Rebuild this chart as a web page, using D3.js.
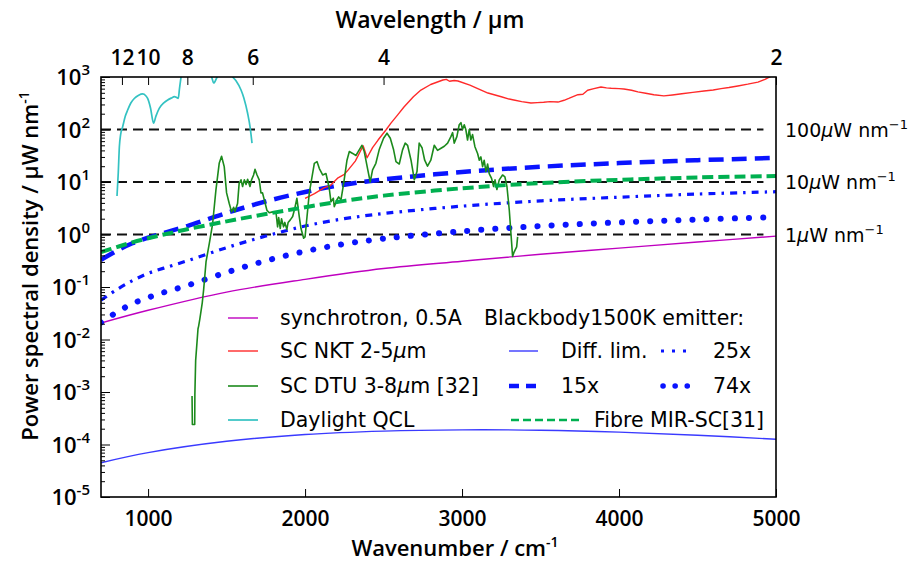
<!DOCTYPE html>
<html>
<head>
<meta charset="utf-8">
<script src="https://cdn.jsdelivr.net/npm/d3@7"></script>
<style>
  body { margin: 0; background: #fff; }
  svg { display: block; }
</style>
</head>
<body>
<svg id="chart" width="913" height="564"></svg>
<script>
// ---- axis settings ----
const wavenumberDomain = [700, 5000];
const psdDomain = [1e-5, 1e3];
const wavenumberTicks = [1000, 2000, 3000, 4000, 5000];
const wavelengthTicks = [12, 10, 8, 6, 4, 2];
const psdExponents = [-5, -4, -3, -2, -1, 0, 1, 2, 3];
const referenceLevels = [100, 10, 1];
const referenceLabels = ["100", "10", "1"];

// ---- series: [wavenumber cm^-1, power spectral density uW/nm] ----
const synchrotron = [[700,0.0206],[1000,0.036],[1500,0.08],[2000,0.14],[2500,0.225],[3000,0.31],[3500,0.42],[4000,0.55],[4500,0.72],[5000,0.93]];

const bbDiffLim = [[700,4.5e-5],[1000,7e-5],[1500,1.15e-4],[2000,1.55e-4],[2500,1.8e-4],[3000,1.9e-4],[3500,1.87e-4],[4000,1.72e-4],[4500,1.5e-4],[5000,1.26e-4]];
const bb15x = [[700,0.33],[800,0.49],[900,0.68],[1000,0.87],[1100,1.07],[1250,1.45],[1500,2.57],[1750,4.27],[2000,6.46],[2250,8.9],[2500,11.2],[3000,15.5],[3500,19.5],[4000,22.9],[4500,26],[5000,28.8]];
const bb25x = [[700,0.056],[800,0.089],[900,0.132],[1000,0.182],[1100,0.229],[1250,0.316],[1500,0.562],[1750,0.933],[2000,1.45],[2250,2.0],[2500,2.51],[3000,3.47],[3500,4.37],[4000,5.13],[4500,5.89],[5000,6.53]];
const bb74x = [[700,0.021],[800,0.033],[900,0.048],[1000,0.063],[1100,0.079],[1250,0.107],[1500,0.19],[1750,0.316],[2000,0.479],[2250,0.661],[2500,0.832],[3000,1.15],[3500,1.45],[4000,1.7],[4500,1.93],[5000,2.14]];
const fibreMirSc = [[700,0.46],[800,0.575],[900,0.71],[1000,0.85],[1100,1.0],[1250,1.26],[1500,1.78],[1750,2.45],[2000,3.31],[2250,4.37],[2500,5.5],[3000,7.59],[3500,9.55],[4000,11],[4500,12.2],[5000,13]];

const scNkt = [[2000,4.9],[2060,6],[2120,7.7],[2160,8.5],[2210,12],[2250,14],[2275,17],[2320,25],[2370,49],[2395,29],[2430,45],[2465,63],[2515,98],[2547,132],[2590,190],[2630,268],[2690,420],[2738,565],[2800,720],[2878,876],[2900,900],[2920,830],[2950,860],[2974,840],[3050,700],[3100,600],[3165,495],[3250,420],[3300,380],[3330,365],[3380,340],[3439,320],[3480,325],[3520,330],[3560,340],[3611,333],[3650,360],[3680,390],[3738,460],[3770,470],[3800,560],[3840,600],[3885,645],[3920,620],[3950,610],[4000,600],[4031,590],[4080,560],[4120,520],[4170,490],[4222,460],[4286,436],[4340,455],[4400,480],[4470,510],[4541,540],[4600,565],[4650,600],[4700,630],[4757,675],[4820,730],[4885,800],[4930,900],[4960,1000],[5000,1150]];

const scDtu = [[1280,8.4e-4],[1282,2.4e-4],[1297,2.4e-4],[1298,9e-4],[1303,4e-3],[1318,0.016],[1322,0.018],[1330,0.025],[1345,0.05],[1354,0.09],[1369,0.3],[1390,0.68],[1411,1.6],[1432,7],[1453,22.7],[1468,31],[1485,19.6],[1500,6.2],[1517,3.9],[1532,2.7],[1545,3.3],[1553,2.7],[1570,3.9],[1580,9.4],[1592,11],[1602,8.2],[1613,11],[1624,9],[1634,11.3],[1649,8.2],[1659,11],[1672,13.6],[1681,17.4],[1694,13.6],[1708,11],[1719,6.2],[1729,6.2],[1740,4.6],[1757,2.9],[1772,2.6],[1793,2.7],[1815,2.6],[1825,1.4],[1832,2.1],[1842,1.3],[1850,2],[1863,1.4],[1871,1.7],[1884,1.25],[1892,1.7],[1906,1.9],[1921,2.2],[1935,3.2],[1948,4.9],[1963,2.2],[1974,1.3],[1991,0.85],[2000,0.9],[2027,6.2],[2059,22.7],[2076,24.5],[2091,18],[2112,13.6],[2133,14.5],[2154,7.6],[2165,4.2],[2180,4.9],[2186,3.4],[2203,4.6],[2214,5.2],[2229,4.6],[2246,9.4],[2267,26],[2282,38],[2303,35],[2324,32],[2345,41],[2362,50],[2377,38],[2398,18],[2415,10],[2430,17],[2451,22.7],[2472,41],[2500,68],[2522,85],[2543,68],[2564,41],[2579,24.5],[2600,22],[2621,41],[2638,55],[2653,50],[2675,26],[2696,11],[2713,15.8],[2727,55],[2745,45],[2762,26],[2780,20],[2801,26],[2823,50],[2844,40],[2866,44],[2887,48],[2908,55],[2929,73],[2940,87],[2950,55],[2967,73],[2982,123],[2993,135],[3003,100],[3014,123],[3024,100],[3035,63],[3046,100],[3056,63],[3067,80],[3082,47],[3099,35],[3110,26],[3120,30],[3131,19.6],[3141,26],[3152,15.8],[3163,22],[3173,14.5],[3188,11.7],[3201,8.2],[3210,11],[3222,7.2],[3237,11],[3258,13.6],[3273,12.5],[3286,8.2],[3301,2.9],[3312,1.0],[3322,0.38],[3330,0.45],[3337,0.5],[3348,0.58],[3354,0.9]];

const daylightQcl = [[802,5.4],[810,15],[817,47],[825,80],[838,113],[855,180],[870,235],[890,320],[912,390],[940,450],[965,475],[985,440],[997,390],[1015,260],[1035,132],[1050,180],[1071,253],[1100,320],[1125,365],[1150,400],[1167,422],[1180,410],[1192,390],[1200,600],[1210,1000],[1230,1800],[1380,1800],[1405,1000],[1418,770],[1440,1000],[1480,1400],[1520,1300],[1540,1000],[1560,850],[1592,565],[1610,400],[1634,204],[1650,110],[1662,55]];

// ---- layout ----
const plot = { left: 101, right: 776, top: 77, bottom: 497 };
const calibriLike = "'Open Sans', 'Liberation Sans', sans-serif";
const mplFont = "'DejaVu Sans', sans-serif";
const bbBlue = "#0a14ff";

const svg = d3.select("#chart");
const x = d3.scaleLinear().domain(wavenumberDomain).range([plot.left, plot.right]);
const y = d3.scaleLog().domain(psdDomain).range([plot.bottom, plot.top]);

svg.append("defs").append("clipPath").attr("id", "plot-area")
  .append("rect")
  .attr("x", plot.left).attr("y", plot.top)
  .attr("width", plot.right - plot.left).attr("height", plot.bottom - plot.top);

const body = svg.append("g").attr("clip-path", "url(#plot-area)");

// horizontal reference levels
body.selectAll("line.ref").data(referenceLevels).join("line")
  .attr("class", "ref")
  .attr("x1", plot.left).attr("x2", x(4920))
  .attr("y1", d => y(d)).attr("y2", d => y(d))
  .attr("stroke", "#111").attr("stroke-width", 1.8)
  .attr("stroke-dasharray", "10,6");

const styles = {
  synchrotron: { stroke: "#bf00bf", width: 1.4 },
  nkt:         { stroke: "#ff2a2a", width: 1.4 },
  dtu:         { stroke: "#1c8a1c", width: 1.6 },
  qcl:         { stroke: "#33c2c2", width: 1.7 },
  diff:        { stroke: "#3a3aff", width: 1.4 },
  bb15:        { stroke: bbBlue, width: 4.5, dash: "15,8" },
  bb25:        { stroke: bbBlue, width: 3.2, dash: "7,6,2.5,6" },
  bb74:        { stroke: bbBlue, width: 6, dash: "0.1,14", cap: "round" },
  fibre:       { stroke: "#00b050", width: 4, dash: "11,5" }
};

function drawSeries(data, st, curve) {
  const gen = d3.line().x(d => x(d[0])).y(d => y(d[1])).curve(curve);
  body.append("path").datum(data)
    .attr("d", gen)
    .attr("fill", "none")
    .attr("stroke", st.stroke)
    .attr("stroke-width", st.width)
    .attr("stroke-dasharray", st.dash || null)
    .attr("stroke-linecap", st.cap || "butt")
    .attr("stroke-linejoin", "round");
}

const smooth = d3.curveCatmullRom.alpha(0.5);
drawSeries(synchrotron, styles.synchrotron, smooth);
drawSeries(bbDiffLim, styles.diff, smooth);
drawSeries(bb74x, styles.bb74, smooth);
drawSeries(bb25x, styles.bb25, smooth);
drawSeries(bb15x, styles.bb15, smooth);
drawSeries(scNkt, styles.nkt, d3.curveLinear);
drawSeries(scDtu, styles.dtu, d3.curveLinear);
drawSeries(daylightQcl, styles.qcl, d3.curveMonotoneX);
drawSeries(fibreMirSc, styles.fibre, smooth);

// ---- frame ----
svg.append("rect")
  .attr("x", plot.left).attr("y", plot.top)
  .attr("width", plot.right - plot.left).attr("height", plot.bottom - plot.top)
  .attr("fill", "none").attr("stroke", "#000").attr("stroke-width", 1.6);

// ---- bottom axis (wavenumber) ----
const bottomAxis = svg.append("g")
  .attr("transform", `translate(0,${plot.bottom})`)
  .call(d3.axisBottom(x).tickValues(wavenumberTicks).tickSize(-8).tickPadding(14).tickFormat(d3.format("d")));
bottomAxis.select(".domain").remove();
bottomAxis.selectAll("text").attr("font-family", calibriLike).attr("font-weight", 600).attr("font-size", 21).attr("fill", "#000");
bottomAxis.selectAll("line").attr("stroke", "#000").attr("stroke-width", 1);

// ---- top axis (wavelength in um) ----
const topAxis = svg.append("g")
  .attr("transform", `translate(0,${plot.top})`)
  .call(d3.axisTop(x).tickValues(wavelengthTicks.map(l => 1e4 / l)).tickSize(-8).tickPadding(12)
    .tickFormat(d => String(Math.round(1e4 / d))));
topAxis.select(".domain").remove();
topAxis.selectAll("text").attr("font-family", calibriLike).attr("font-weight", 600).attr("font-size", 21).attr("fill", "#000");
topAxis.selectAll("line").attr("stroke", "#000").attr("stroke-width", 1);

// ---- left axis (log) ----
const minorTicks = [];
psdExponents.slice(0, -1).forEach(e => { for (let m = 2; m <= 9; m++) minorTicks.push(m * Math.pow(10, e)); });
const leftAxis = svg.append("g").attr("transform", `translate(${plot.left},0)`);
leftAxis.call(d3.axisLeft(y).tickValues(psdExponents.map(e => Math.pow(10, e))).tickSize(-9).tickFormat(""));
leftAxis.append("g").call(d3.axisLeft(y).tickValues(minorTicks).tickSize(-4).tickFormat(""));
leftAxis.selectAll(".domain").remove();
leftAxis.selectAll("line").attr("stroke", "#000").attr("stroke-width", 1);

const yLabels = svg.append("g").attr("font-family", calibriLike).attr("font-weight", 600).attr("fill", "#000");
psdExponents.forEach(e => {
  const t = yLabels.append("text")
    .attr("x", 90).attr("y", y(Math.pow(10, e)) + 8)
    .attr("text-anchor", "end").attr("font-size", 22);
  t.append("tspan").text("10");
  t.append("tspan").attr("dy", -10).attr("font-size", 15).text(String(e));
});

// ---- axis titles ----
svg.append("text")
  .attr("x", 430).attr("y", 28).attr("text-anchor", "middle")
  .attr("font-family", calibriLike).attr("font-weight", 600).attr("font-size", 23)
  .text("Wavelength / μm");

const xTitle = svg.append("text")
  .attr("x", 455).attr("y", 556).attr("text-anchor", "middle")
  .attr("font-family", calibriLike).attr("font-weight", 600).attr("font-size", 22);
xTitle.append("tspan").text("Wavenumber / cm");
xTitle.append("tspan").attr("dy", -9).attr("font-size", 14).text("-1");

const yTitle = svg.append("text")
  .attr("transform", "translate(38,266) rotate(-90)").attr("text-anchor", "middle")
  .attr("font-family", calibriLike).attr("font-weight", 600).attr("font-size", 22);
yTitle.append("tspan").text("Power spectral density / μW nm");
yTitle.append("tspan").attr("dy", -9).attr("font-size", 14).text("-1");

// ---- reference level labels ----
const refText = svg.append("g").attr("font-family", mplFont).attr("font-size", 19).attr("fill", "#000");
referenceLevels.forEach((lvl, i) => {
  const t = refText.append("text").attr("x", 785).attr("y", y(lvl) + 7);
  t.append("tspan").text(referenceLabels[i]);
  t.append("tspan").attr("font-style", "italic").text("μ");
  t.append("tspan").text("W nm");
  t.append("tspan").attr("dy", -8).attr("font-size", 13).text("−1");
});

// ---- legend ----
const legend = svg.append("g").attr("font-family", mplFont).attr("font-size", 20.5).attr("fill", "#000");
function legendLine(x1, x2, yy, st, widthOverride) {
  legend.append("line")
    .attr("x1", x1).attr("x2", x2).attr("y1", yy).attr("y2", yy)
    .attr("stroke", st.stroke).attr("stroke-width", widthOverride || st.width)
    .attr("stroke-dasharray", st.dash || null)
    .attr("stroke-linecap", st.cap || "butt");
}
function legendText(xx, yy, parts) {
  const t = legend.append("text").attr("x", xx).attr("y", yy + 7);
  parts.forEach(p => t.append("tspan").attr("font-style", p.italic ? "italic" : null).text(p.s));
}
const leftRows = [318, 351, 386, 420];
legendLine(228, 258, leftRows[0], styles.synchrotron);
legendText(280, leftRows[0], [{ s: "synchrotron, 0.5A" }]);
legendLine(228, 258, leftRows[1], styles.nkt);
legendText(280, leftRows[1], [{ s: "SC NKT 2-5" }, { s: "μ", italic: true }, { s: "m" }]);
legendLine(228, 258, leftRows[2], styles.dtu);
legendText(280, leftRows[2], [{ s: "SC DTU 3-8" }, { s: "μ", italic: true }, { s: "m [32]" }]);
legendLine(228, 258, leftRows[3], styles.qcl);
legendText(280, leftRows[3], [{ s: "Daylight QCL" }]);

legendText(484, leftRows[0], [{ s: "Blackbody1500K emitter:" }]);
legendLine(509, 538, leftRows[1], styles.diff);
legendText(561, leftRows[1], [{ s: "Diff. lim." }]);
legendLine(661, 691, leftRows[1], { stroke: bbBlue, width: 3.2, dash: "3,8" });
legendText(713, leftRows[1], [{ s: "25x" }]);
legendLine(509, 538, leftRows[2], { stroke: bbBlue, width: 4.5, dash: "10,7" });
legendText(561, leftRows[2], [{ s: "15x" }]);
legendLine(663, 691, leftRows[2], { stroke: bbBlue, width: 5.5, dash: "0.1,12", cap: "round" });
legendText(713, leftRows[2], [{ s: "74x" }]);
legendLine(511, 583, leftRows[3], { stroke: "#00b050", width: 2.6, dash: "8,4" });
legendText(594, leftRows[3], [{ s: "Fibre MIR-SC[31]" }]);
</script>
</body>
</html>
